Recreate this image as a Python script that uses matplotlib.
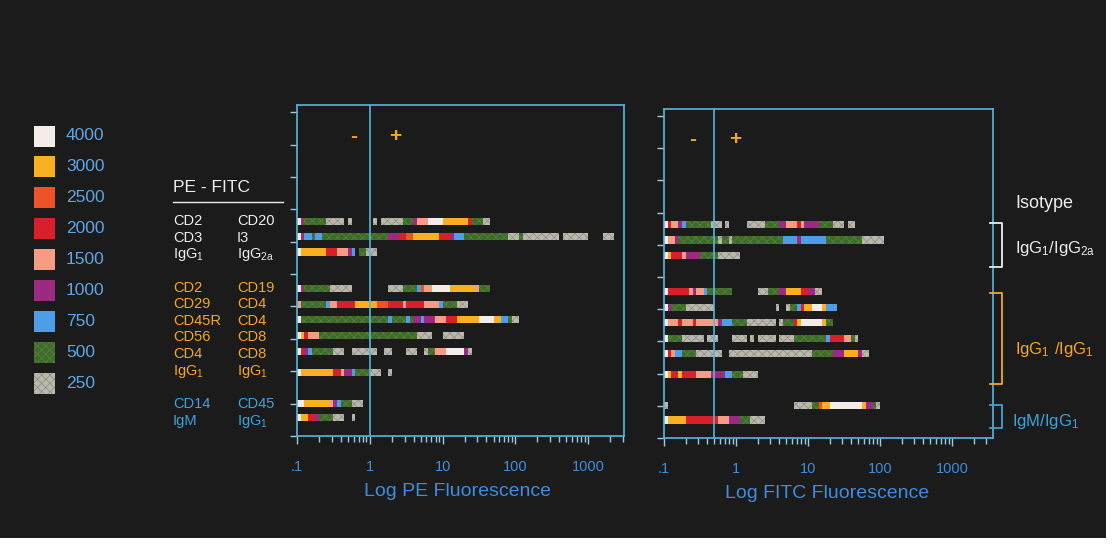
import itertools
import numpy as np
import matplotlib
matplotlib.use('Agg')
import matplotlib.pyplot as plt
from matplotlib.patches import Rectangle
from matplotlib.lines import Line2D
from matplotlib.ticker import LogLocator, NullFormatter

plt.rcParams['font.family'] = ['Liberation Sans', 'DejaVu Sans']
plt.rcParams['hatch.linewidth'] = 0.5

###############################################################################
## Data
###############################################################################
# fluorescence intensity levels (legend) and one code letter per level
levels = [4000, 3000, 2500, 2000, 1500, 1000, 750, 500, 250]
codes = ['W', 'Y', 'O', 'R', 'S', 'M', 'B', 'G', 'g']
level_colors = ['#f3ece8', '#f8b020', '#ee5327', '#d7202a', '#f69c84',
                '#9c2a80', '#4e9de8', '#3e6b2a', '#bab7ac']

# each row = one char per 0.05 decade bin, starting at 0.1 ('.' = empty)
BIN = 0.05
pe_rows = [
    "WMGGGGGGggggg.g......g.ggggggGGGMSSSWWWWYYYYYYYRGGGgg",
    "WMBBGBBGGGGGGGGGGGGGGGGGGMMMRROOYYYYYYYRRRMBBBGGGGGGGGGGGGgggGgggggggggg.ggggggg....ggg",
    "WYYYYYYYRRRSSSMB.GGggg",
    "WMGGGGGGGgggggg..........ggggGGGGBOSSWWWWWYYYYYYYSGGG",
    "SGGGGGGGBSSRRRRRYYYYYYOOORRRRSRRRRRSSSSBGGGGggg",
    "WGGGGGGGGGGGGGGGGGGGGGGGGBGGGGBGMMBMMMSSSRRRYYYYYYWWWWYYBBGgg",
    "WYRSSSGGGGGGGGGGGGGGGGGGGGGGGGGGGgggg...gggggg",
    "WRMBGGGGGGggg..ggggggg..gg....ggg..gGGSSSWWWWWMg",
    "WYYYYYYYYYRRSMMBGGGGggg..g",
    "WWYYYYYYYSMBGGGggg",
    "WYYRRMGGGGggg..g",
]
fitc_rows = [
    "WRSSMBGGGGGGGggg.g.....gggggGGGGMMSSSRSMMMMGGGGggg.gg",
    "WSSMGGGGGGGGGGGgGGgGGGGGGGGGGGGGGBBBBMBBBBBBBGGGGGGGGGGgggggg",
    "WYRRRSMMMMGGGGGgggggg",
    "WRRRRRRSMSSBGGGGGGG.......gggGGGMMYYYYRRMMgg",
    "WMGGGGgggggggg.................g..gGGBRYYWWWYBBB",
    "WSSSRSSSRSSSSSSMBBBGGGGgggggggg.gGGGRYWWWWWWYGG",
    "WGGGGgggggg.ggg....gggg.g.ggggg.ggggGGGGGGGGGBRRRRSSGg",
    "WRSBBGGGGggggggg..gggggggggggggggggggggggGGGGGGMMMYYYYMgg",
    "WYRRYRRRRSSSSMMMMBBGGGgggg",
    "g...................................gggggGGOYYWWWWWWWWWYMMGg",
    "WYYYYYRRRRRRRRRSSSMMMGGGgggg",
]
# vertical position of each row (tick units, 0 = bottom axis)
row_y = [6.62, 6.15, 5.68, 4.56, 4.06, 3.60, 3.10, 2.62, 1.96, 1.00, 0.56]

pe_thresh = 1.0
fitc_thresh = 0.5
xticks = [0.1, 1, 10, 100, 1000]
xtick_labels = ['.1', '1', '10', '100', '1000']

sub1 = r'$\mathregular{IgG_1}$'
white_pairs = [('CD2', 'CD20'), ('CD3', 'I3'), (sub1, r'$\mathregular{IgG_{2a}}$')]
orange_pairs = [('CD2', 'CD19'), ('CD29', 'CD4'), ('CD45R', 'CD4'),
                ('CD56', 'CD8'), ('CD4', 'CD8'), (sub1, sub1)]
blue_pairs = [('CD14', 'CD45'), ('IgM', sub1)]
pair_baselines = [225, 242, 258, 291.5, 308, 325, 341, 358, 375, 408, 425]

###############################################################################
## Style
###############################################################################
W, H = 1118, 547
BG = '#1b1b1b'
CYAN = '#55b6de'
WHITE = '#ececec'
ORANGE = '#f5a623'
BLUE_TXT = '#3ba3dc'
LEG_TXT = '#5ea6e6'
AX_TXT = '#3d8ede'
TEXTURE = {'G': '#56843e', 'g': '#8f8c84'}


def fx(x):
    return x / W


def fy(y):
    return 1 - y / H


def patch_style(c):
    if c in TEXTURE:
        return dict(hatch='xxxx', edgecolor=TEXTURE[c], linewidth=0)
    return dict(linewidth=0)


fig = plt.figure(figsize=(11.18, 5.47), dpi=100, facecolor=BG)

ax1 = fig.add_axes([fx(297), fy(436), 327 / W, 331 / H])
ax2 = fig.add_axes([fx(664), fy(438), 329 / W, 329 / H])


def draw_rows(ax, rows):
    for y, row in zip(row_y, rows):
        i = 0
        for c, grp in itertools.groupby(row):
            n = len(list(grp))
            if c != '.':
                k = codes.index(c)
                x0 = 10 ** (-1 + BIN * i)
                x1 = 10 ** (-1 + BIN * (i + n))
                ax.barh(y, x1 - x0, left=x0, height=0.22,
                        facecolor=level_colors[k], **patch_style(c))
            i += n


for ax, rows, xmax, thr in [(ax1, pe_rows, 3100, pe_thresh),
                            (ax2, fitc_rows, 3700, fitc_thresh)]:
    ax.set_facecolor(BG)
    ax.set_xscale('log')
    ax.set_xlim(0.1, xmax)
    ax.set_ylim(0, 10.22)
    draw_rows(ax, rows)
    ax.axvline(thr, color=CYAN, lw=1.2)
    for s in ax.spines.values():
        s.set_color(CYAN)
        s.set_linewidth(1.2)
    ax.set_xticks(xticks)
    ax.set_xticklabels(xtick_labels)
    ax.xaxis.set_minor_locator(LogLocator(base=10, subs=np.arange(2, 10)))
    ax.xaxis.set_minor_formatter(NullFormatter())
    ax.tick_params(axis='x', which='major', direction='out', length=6, width=1,
                   color='#9fc9dc', labelcolor=AX_TXT, labelsize=10.5, pad=11)
    ax.tick_params(axis='x', which='minor', direction='out', length=4, width=1,
                   color='#9fc9dc')
    ax.set_yticks(range(11))
    ax.set_yticklabels([])
    ax.tick_params(axis='y', direction='out', length=5, width=1, color='#9fc9dc')

# axis titles
fig.text(fx(457), fy(492), 'Log PE Fluorescence', color=AX_TXT, fontsize=14,
         ha='center', va='center')
fig.text(fx(827), fy(494), 'Log FITC Fluorescence', color=AX_TXT, fontsize=14,
         ha='center', va='center')

# +/- markers
for x, y, s in [(354, 136, '-'), (395, 136, '+'), (693, 139, '-'), (735, 139, '+')]:
    fig.text(fx(x), fy(y), s, color=ORANGE, fontsize=15, fontweight='bold',
             ha='center', va='center')

# legend
for i, (lvl, col, c) in enumerate(zip(levels, level_colors, codes)):
    yc = 136 + i * 30.9
    fig.add_artist(Rectangle((fx(34), fy(yc + 10.5)), 21 / W, 21 / H,
                             transform=fig.transFigure, facecolor=col,
                             **patch_style(c)))
    fig.text(fx(66), fy(yc), str(lvl), color=LEG_TXT, fontsize=12.5, va='center')

# antibody pair labels
fig.text(fx(173), fy(187), 'PE - FITC', color=WHITE, fontsize=12.5, va='center')
fig.add_artist(Line2D([fx(173), fx(283)], [fy(201.5), fy(201.5)], color=WHITE,
                      lw=1, transform=fig.transFigure))
pairs = ([(p, WHITE) for p in white_pairs] + [(p, ORANGE) for p in orange_pairs]
         + [(p, BLUE_TXT) for p in blue_pairs])
for ((a, b), col), yb in zip(pairs, pair_baselines):
    fig.text(fx(173), fy(yb), a, color=col, fontsize=10.5, va='baseline')
    fig.text(fx(237), fy(yb), b, color=col, fontsize=10.5, va='baseline')

# isotype brackets
fig.text(fx(1015), fy(208), 'Isotype', color=WHITE, fontsize=13, va='baseline')
for top, bot, col, label, yb, xl in [
        (222.7, 267.3, WHITE, r'$\mathregular{IgG_1/IgG_{2a}}$', 253, 1015),
        (293.3, 384, ORANGE, r'$\mathregular{IgG_1\ /IgG_1}$', 354, 1015),
        (405, 428.3, BLUE_TXT, r'$\mathregular{IgM/IgG_1}$', 426, 1012)]:
    fig.add_artist(Line2D([fx(990), fx(1001.5), fx(1001.5), fx(990)],
                          [fy(top), fy(top), fy(bot), fy(bot)], color=col, lw=1.3,
                          transform=fig.transFigure))
    fig.text(fx(xl), fy(yb), label, color=col, fontsize=12, va='baseline')

# scan border
fig.add_artist(Rectangle((fx(1106), 0), 12 / W, 1, transform=fig.transFigure,
                         facecolor='white', linewidth=0))
fig.add_artist(Rectangle((0, 0), 1, 9 / H, transform=fig.transFigure,
                         facecolor='white', linewidth=0))

fig.savefig('out.png', dpi=100, facecolor=BG)
